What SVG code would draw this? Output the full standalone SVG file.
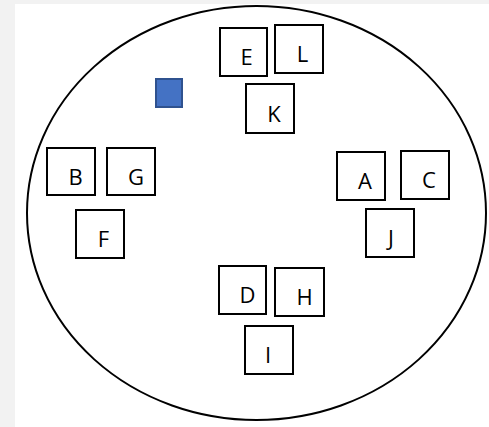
<svg xmlns="http://www.w3.org/2000/svg" width="489" height="427" viewBox="0 0 489 427">
<style>
.box{fill:#ffffff;stroke:#000000;stroke-width:2}
.lbl{font-family:"Open Sans","Liberation Sans",sans-serif;font-size:22px;fill:#000000;text-anchor:middle}
</style>
<rect x="0" y="0" width="489" height="427" fill="#f2f2f2"/>
<rect x="15" y="4" width="474" height="423" fill="#ffffff"/>
<ellipse id="set" cx="256.5" cy="213" rx="229.5" ry="207" fill="none" stroke="#000000" stroke-width="2"/>
<g id="connectors"></g>
<g id="E"><rect class="box" x="220" y="28" width="47" height="48"/><text class="lbl" x="246.5" y="65">E</text></g>
<g id="L"><rect class="box" x="275" y="25" width="48" height="48"/><text class="lbl" x="302.5" y="62">L</text></g>
<g id="K"><rect class="box" x="246" y="84" width="48" height="49"/><text class="lbl" x="274" y="121.5">K</text></g>
<g id="B"><rect class="box" x="47" y="148" width="48" height="47"/><text class="lbl" x="75.5" y="185">B</text></g>
<g id="G"><rect class="box" x="107" y="148" width="48" height="47"/><text class="lbl" x="136" y="185">G</text></g>
<g id="F"><rect class="box" x="76" y="210" width="48" height="48"/><text class="lbl" x="103.5" y="246.5">F</text></g>
<g id="A"><rect class="box" x="337" y="152" width="48" height="48"/><text class="lbl" x="365" y="188.5">A</text></g>
<g id="C"><rect class="box" x="401" y="151" width="48" height="48"/><text class="lbl" x="429" y="188">C</text></g>
<g id="J"><rect class="box" x="366" y="209" width="48" height="48"/><text class="lbl" x="391" y="246">J</text></g>
<g id="D"><rect class="box" x="219" y="266" width="47" height="48"/><text class="lbl" x="247.5" y="303">D</text></g>
<g id="H"><rect class="box" x="275" y="268" width="49" height="48"/><text class="lbl" x="304.5" y="305">H</text></g>
<g id="I"><rect class="box" x="245" y="326" width="48" height="48"/><text class="lbl" x="268" y="363">I</text></g>
<g id="marker"><rect x="156" y="79" width="26" height="28" fill="#4472c4" stroke="#2f528f" stroke-width="2"/></g>
</svg>
